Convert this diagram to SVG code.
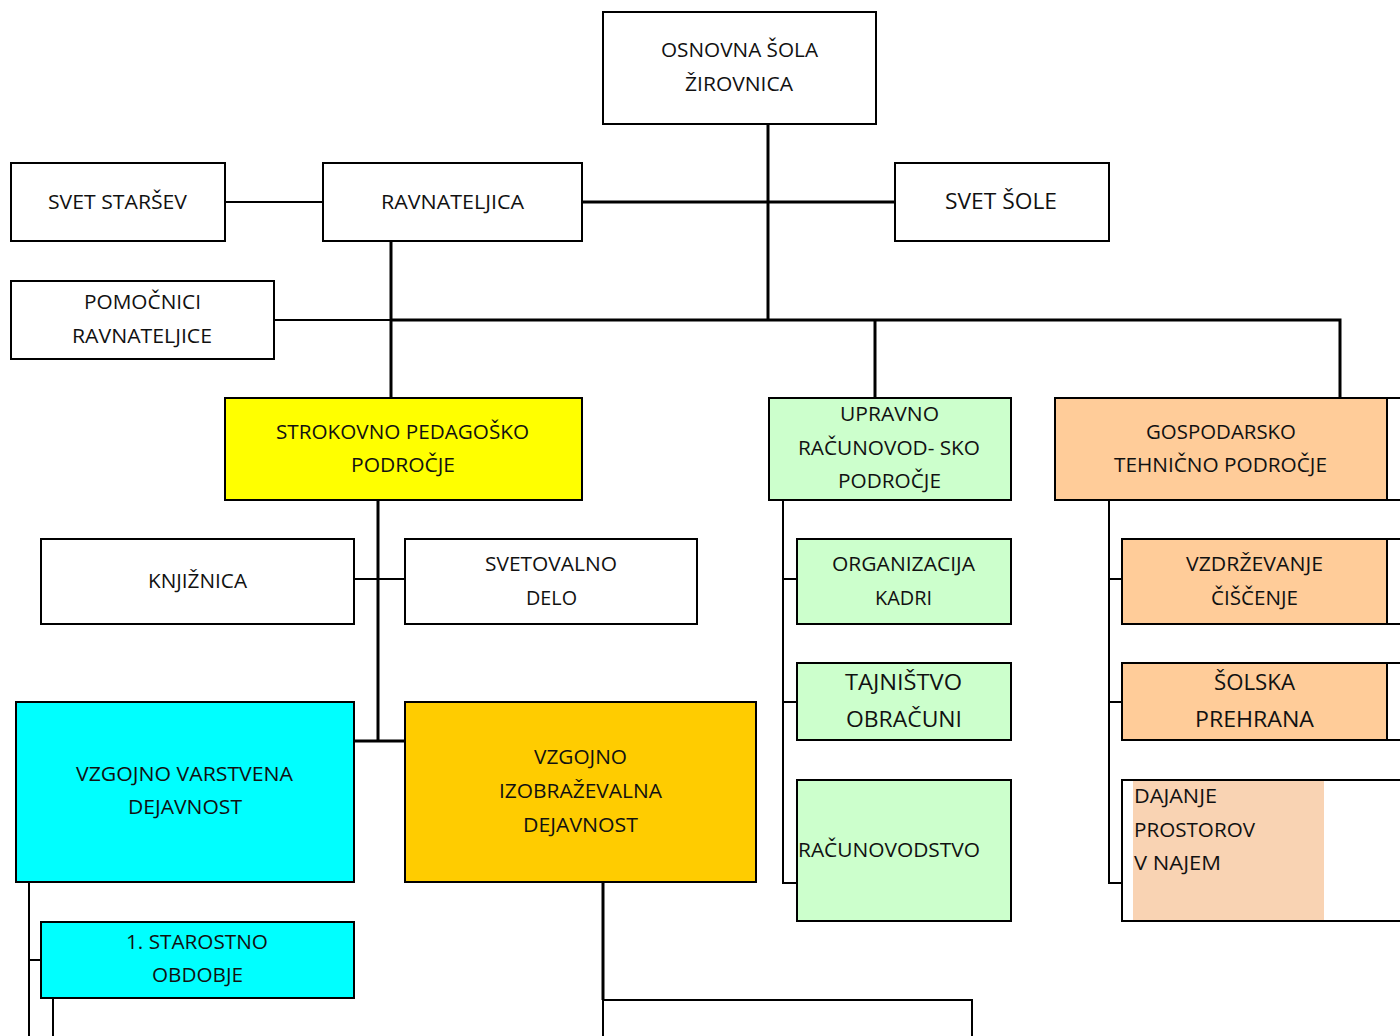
<svg xmlns="http://www.w3.org/2000/svg" width="1400" height="1036" viewBox="0 0 1400 1036">
<style>
  .box { stroke: #000; stroke-width: 2; }
  .w { fill: #fff; }
  .y { fill: #ffff00; }
  .g { fill: #ccffcc; }
  .o { fill: #ffcc99; }
  .c { fill: #00ffff; }
  .a { fill: #ffcc00; }
  .p { fill: #f9d3b3; }
  text { font-family: "Open Sans", "Noto Sans", "Liberation Sans", sans-serif; font-size: 20px; fill: #111; text-anchor: middle; }
  .l { text-anchor: start; }
  .big { font-size: 22px; }
  .c1 { stroke: #000; stroke-width: 3; fill: none; }
  .c2 { stroke: #000; stroke-width: 2; fill: none; }
</style>
<rect width="1400" height="1036" fill="#fff"/>
<g id="connectors">
  <path class="c1" d="M768 124 V320"/>
  <path class="c1" d="M582 202 H895"/>
  <path class="c2" d="M225 202 H323"/>
  <path class="c1" d="M391 241 V398"/>
  <path class="c2" d="M274 320 H391"/>
  <path class="c1" d="M391 320 H1340 V398"/>
  <path class="c1" d="M875 320 V398"/>
  <path class="c1" d="M378 500 V741"/>
  <path class="c2" d="M354 579 H405"/>
  <path class="c1" d="M354 741 H405"/>
  <path class="c2" d="M29 882 V1036"/>
  <path class="c2" d="M29 960 H41"/>
  <path class="c2" d="M53 998 V1036"/>
  <path class="c1" d="M603 882 V1000"/>
  <path class="c2" d="M783 500 V883 H797"/>
  <path class="c2" d="M783 579 H797"/>
  <path class="c2" d="M783 702 H797"/>
  <path class="c2" d="M1109 500 V883 H1122"/>
  <path class="c2" d="M1109 579 H1122"/>
  <path class="c2" d="M1109 702 H1122"/>
</g>
<g id="osnovna-sola">
  <rect class="box w" x="603" y="12" width="273" height="112"/>
  <text x="739.5" y="57" textLength="157" lengthAdjust="spacingAndGlyphs">OSNOVNA ŠOLA</text>
  <text x="739" y="91" textLength="108" lengthAdjust="spacingAndGlyphs">ŽIROVNICA</text>
</g>
<g id="svet-starsev">
  <rect class="box w" x="11" y="163" width="214" height="78"/>
  <text x="117.5" y="209" textLength="139" lengthAdjust="spacingAndGlyphs">SVET STARŠEV</text>
</g>
<g id="ravnateljica">
  <rect class="box w" x="323" y="163" width="259" height="78"/>
  <text x="452.5" y="209" textLength="143" lengthAdjust="spacingAndGlyphs">RAVNATELJICA</text>
</g>
<g id="svet-sole">
  <rect class="box w" x="895" y="163" width="214" height="78"/>
  <text class="big" x="1001" y="209" textLength="112" lengthAdjust="spacingAndGlyphs">SVET ŠOLE</text>
</g>
<g id="pomocnici">
  <rect class="box w" x="11" y="281" width="263" height="78"/>
  <text x="142.5" y="309" textLength="117" lengthAdjust="spacingAndGlyphs">POMOČNICI</text>
  <text x="142" y="343" textLength="140" lengthAdjust="spacingAndGlyphs">RAVNATELJICE</text>
</g>
<g id="strokovno">
  <rect class="box y" x="225" y="398" width="357" height="102"/>
  <text x="402.5" y="439" textLength="253" lengthAdjust="spacingAndGlyphs">STROKOVNO PEDAGOŠKO</text>
  <text x="403" y="472" textLength="104" lengthAdjust="spacingAndGlyphs">PODROČJE</text>
</g>
<g id="upravno">
  <rect class="box g" x="769" y="398" width="242" height="102"/>
  <text x="889.5" y="421" textLength="99" lengthAdjust="spacingAndGlyphs">UPRAVNO</text>
  <text x="889" y="455" textLength="182" lengthAdjust="spacingAndGlyphs">RAČUNOVOD- SKO</text>
  <text x="889.5" y="488" textLength="103" lengthAdjust="spacingAndGlyphs">PODROČJE</text>
</g>
<g id="gospodarsko">
  <rect class="box o" x="1055" y="398" width="332" height="102"/>
  <text x="1221" y="439" textLength="150" lengthAdjust="spacingAndGlyphs">GOSPODARSKO</text>
  <text x="1220.5" y="472" textLength="213" lengthAdjust="spacingAndGlyphs">TEHNIČNO PODROČJE</text>
</g>
<g id="right-partial-1">
  <rect class="box w" x="1387" y="398" width="30" height="102"/>
</g>
<g id="knjiznica">
  <rect class="box w" x="41" y="539" width="313" height="85"/>
  <text x="197.5" y="588" textLength="99" lengthAdjust="spacingAndGlyphs">KNJIŽNICA</text>
</g>
<g id="svetovalno">
  <rect class="box w" x="405" y="539" width="292" height="85"/>
  <text x="551" y="571" textLength="132" lengthAdjust="spacingAndGlyphs">SVETOVALNO</text>
  <text x="551.5" y="605" textLength="51" lengthAdjust="spacingAndGlyphs">DELO</text>
</g>
<g id="organizacija">
  <rect class="box g" x="797" y="539" width="214" height="85"/>
  <text x="903.5" y="571" textLength="143" lengthAdjust="spacingAndGlyphs">ORGANIZACIJA</text>
  <text x="903.5" y="605" textLength="57" lengthAdjust="spacingAndGlyphs">KADRI</text>
</g>
<g id="vzdrzevanje">
  <rect class="box o" x="1122" y="539" width="265" height="85"/>
  <text x="1254.5" y="571" textLength="137" lengthAdjust="spacingAndGlyphs">VZDRŽEVANJE</text>
  <text x="1254.5" y="605" textLength="87" lengthAdjust="spacingAndGlyphs">ČIŠČENJE</text>
</g>
<g id="right-partial-2">
  <rect class="box w" x="1387" y="539" width="30" height="85"/>
</g>
<g id="tajnistvo">
  <rect class="box g" x="797" y="663" width="214" height="77"/>
  <text class="big" x="903.5" y="690" textLength="117" lengthAdjust="spacingAndGlyphs">TAJNIŠTVO</text>
  <text class="big" x="904" y="727" textLength="116" lengthAdjust="spacingAndGlyphs">OBRAČUNI</text>
</g>
<g id="solska-prehrana">
  <rect class="box o" x="1122" y="663" width="265" height="77"/>
  <text class="big" x="1254.5" y="690" textLength="81" lengthAdjust="spacingAndGlyphs">ŠOLSKA</text>
  <text class="big" x="1254.5" y="727" textLength="119" lengthAdjust="spacingAndGlyphs">PREHRANA</text>
</g>
<g id="right-partial-3">
  <rect class="box w" x="1387" y="663" width="30" height="77"/>
</g>
<g id="vzgojno-varstvena">
  <rect class="box c" x="16" y="702" width="338" height="180"/>
  <text x="184.5" y="781" textLength="217" lengthAdjust="spacingAndGlyphs">VZGOJNO VARSTVENA</text>
  <text x="185" y="814" textLength="114" lengthAdjust="spacingAndGlyphs">DEJAVNOST</text>
</g>
<g id="vzgojno-izobrazevalna">
  <rect class="box a" x="405" y="702" width="351" height="180"/>
  <text x="580.5" y="764" textLength="93" lengthAdjust="spacingAndGlyphs">VZGOJNO</text>
  <text x="580.5" y="798" textLength="163" lengthAdjust="spacingAndGlyphs">IZOBRAŽEVALNA</text>
  <text x="580.5" y="832" textLength="115" lengthAdjust="spacingAndGlyphs">DEJAVNOST</text>
</g>
<g id="racunovodstvo">
  <rect class="box g" x="797" y="780" width="214" height="141"/>
  <text class="l" x="798" y="857" textLength="182" lengthAdjust="spacingAndGlyphs">RAČUNOVODSTVO</text>
</g>
<g id="dajanje-prostorov">
  <rect class="box w" x="1122" y="780" width="300" height="141"/>
  <rect class="p" x="1133" y="781" width="191" height="139"/>
  <text class="l" x="1134" y="803" textLength="83" lengthAdjust="spacingAndGlyphs">DAJANJE</text>
  <text class="l" x="1134" y="837" textLength="121" lengthAdjust="spacingAndGlyphs">PROSTOROV</text>
  <text class="l" x="1134" y="870" textLength="87" lengthAdjust="spacingAndGlyphs">V NAJEM</text>
</g>
<g id="starostno-obdobje">
  <rect class="box c" x="41" y="922" width="313" height="76"/>
  <text x="197" y="949" textLength="142" lengthAdjust="spacingAndGlyphs">1. STAROSTNO</text>
  <text x="197.5" y="982" textLength="91" lengthAdjust="spacingAndGlyphs">OBDOBJE</text>
</g>
<g id="bottom-partial">
  <rect class="box w" x="603" y="1000" width="369" height="60" stroke-width="3"/>
</g>
</svg>
